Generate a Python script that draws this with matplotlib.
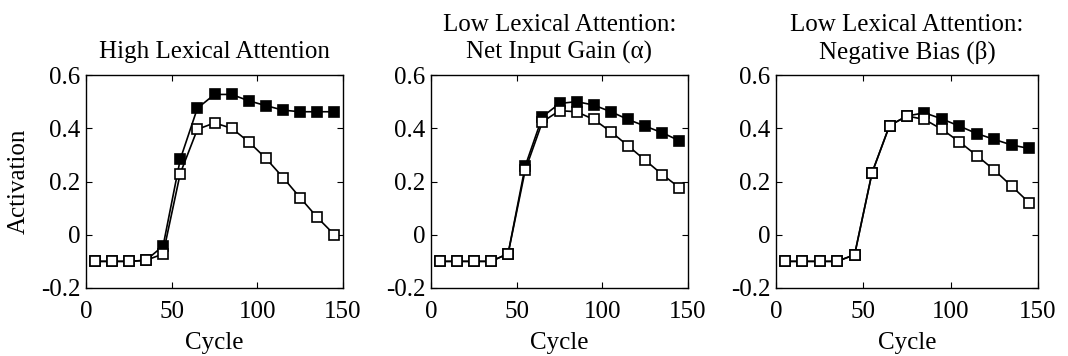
import matplotlib
matplotlib.use("Agg")
import matplotlib.pyplot as plt

plt.rcParams['font.family'] = ['Liberation Serif', 'DejaVu Serif']
plt.rcParams['axes.unicode_minus'] = False

cycles = [5, 15, 25, 35, 45, 55, 65, 75, 85, 95, 105, 115, 125, 135, 145]

titles = ["High Lexical Attention",
          "Low Lexical Attention:\nNet Input Gain (\u03b1)",
          "Low Lexical Attention:\nNegative Bias (\u03b2)"]

high_filled = [-0.1, -0.1, -0.1, -0.096, -0.042, 0.283, 0.475, 0.527, 0.527, 0.503, 0.485, 0.468, 0.462, 0.462, 0.462]
high_open = [-0.1, -0.1, -0.1, -0.096, -0.072, 0.23, 0.396, 0.42, 0.40, 0.349, 0.287, 0.215, 0.139, 0.065, 0.0]

gain_filled = [-0.1, -0.1, -0.1, -0.1, -0.071, 0.258, 0.443, 0.493, 0.50, 0.487, 0.462, 0.433, 0.408, 0.383, 0.353]
gain_open = [-0.1, -0.1, -0.1, -0.1, -0.071, 0.243, 0.424, 0.466, 0.462, 0.433, 0.387, 0.334, 0.28, 0.226, 0.177]

bias_filled = [-0.1, -0.1, -0.1, -0.1, -0.075, 0.233, 0.41, 0.446, 0.458, 0.435, 0.408, 0.38, 0.358, 0.337, 0.324]
bias_open = [-0.1, -0.1, -0.1, -0.1, -0.075, 0.233, 0.41, 0.446, 0.433, 0.396, 0.349, 0.297, 0.243, 0.182, 0.12]

filled = [high_filled, gain_filled, bias_filled]
opened = [high_open, gain_open, bias_open]

yticks = [-0.2, 0, 0.2, 0.4, 0.6]
ytick_labels = ["-0.2", "0", "0.2", "0.4", "0.6"]
xticks = [0, 50, 100, 150]

fig = plt.figure(figsize=(10.68, 3.56), dpi=100)
W, H = 1068.0, 356.0
# panel boxes in pixels: left, width
boxes = [(86, 257), (431, 257), (776, 262)]
axes = [fig.add_axes([l / W, (H - 288) / H, w / W, 213 / H]) for l, w in boxes]

for i, ax in enumerate(axes):
    ax.plot(cycles, filled[i], '-s', color='black', mfc='black', mec='black',
            ms=6.8, mew=1.2, lw=1.2)
    ax.plot(cycles, opened[i], '-s', color='black', mfc='white', mec='black',
            ms=6.8, mew=1.2, lw=1.2)
    ax.set_xlim(0, 150)
    ax.set_ylim(-0.2, 0.6)
    ax.set_xticks(xticks)
    ax.set_yticks(yticks)
    ax.set_yticklabels(ytick_labels)
    ax.tick_params(direction='in', top=True, right=True, labelsize=18, length=4)
    ax.tick_params(axis='x', pad=9)
    ax.tick_params(axis='y', pad=4)
    ax.set_xlabel("Cycle", fontsize=18, labelpad=7)
    ax.set_title(titles[i], fontsize=18, pad=12, linespacing=1.25)
    for s in ax.spines.values():
        s.set_linewidth(1.0)

axes[0].set_ylabel("Activation", fontsize=18, labelpad=8)

fig.savefig("out.png", dpi=100)
